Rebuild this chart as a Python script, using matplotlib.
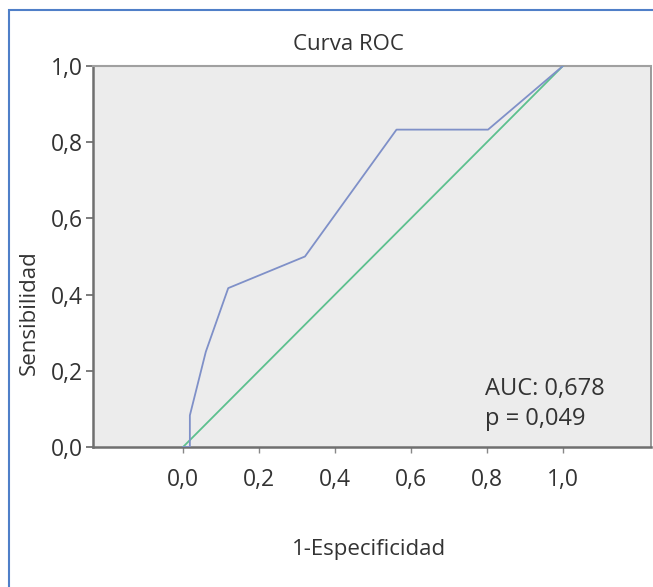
import matplotlib
matplotlib.use("Agg")
import matplotlib.pyplot as plt
from matplotlib.patches import Rectangle

plt.rcParams['font.family'] = ['Open Sans', 'DejaVu Sans']

roc_x = [0.0, 0.018, 0.018, 0.06, 0.119, 0.321, 0.562, 0.803, 1.0]
roc_y = [0.0, 0.0, 0.083, 0.25, 0.417, 0.5, 0.833, 0.833, 1.0]
ref_x = [0.0, 1.0]
ref_y = [0.0, 1.0]
ticks = [0.0, 0.2, 0.4, 0.6, 0.8, 1.0]
tick_labels = ["0,0", "0,2", "0,4", "0,6", "0,8", "1,0"]
title = "Curva ROC"
xlabel = "1-Especificidad"
ylabel = "Sensibilidad"
annot = "AUC: 0,678\np = 0,049"

W, H = 653, 587
fig = plt.figure(figsize=(W/100, H/100), dpi=100)
fig.patch.set_facecolor('white')
fig.patches.append(Rectangle((9/W, -0.05), 1.2, 1 - 10/H + 0.05, transform=fig.transFigure,
                             fill=False, edgecolor='#4f7fc8', linewidth=1.5))

ax = fig.add_axes([93/W, 1 - 447/H, (651 - 93)/W, (447 - 66)/H])
ax.set_facecolor('#ececec')
ax.plot(ref_x, ref_y, color='#5cc08e', lw=1.3, zorder=3)
ax.plot(roc_x, roc_y, color='#7f90c8', lw=1.3, zorder=4)
ax.set_xlim(-0.237, 1.232)
ax.set_ylim(0, 1)
ax.set_xticks(ticks)
ax.set_xticklabels(tick_labels)
ax.set_yticks(ticks)
ax.set_yticklabels(tick_labels)
txt = '#333333'
ax.tick_params(axis='x', direction='out', length=4, width=1, color='#888888', pad=11,
               labelsize=16.5, labelcolor=txt)
ax.tick_params(axis='y', direction='out', length=5, width=1.2, color='#666666', pad=2,
               labelsize=16.5, labelcolor=txt)
for s in ['left', 'bottom']:
    ax.spines[s].set_color('#6f6f6f')
    ax.spines[s].set_linewidth(1.8)
ax.spines['top'].set_color('#a0a0a0')
ax.spines['top'].set_linewidth(1.5)
ax.spines['right'].set_color('#8a8a8a')
ax.spines['right'].set_linewidth(1.2)

fig.text(348/W, 1 - 44/H, title, ha='center', va='center', fontsize=16, color=txt)
fig.text(369.5/W, 1 - 550/H, xlabel, ha='center', va='center', fontsize=16, color=txt)
fig.text(29/W, 1 - 313/H, ylabel, ha='center', va='center', rotation=90, fontsize=16, color=txt)
fig.text(485/W, 1 - 404/H, annot, ha='left', va='center', fontsize=17, color=txt,
         linespacing=1.35)

fig.savefig('out.png', dpi=100)
